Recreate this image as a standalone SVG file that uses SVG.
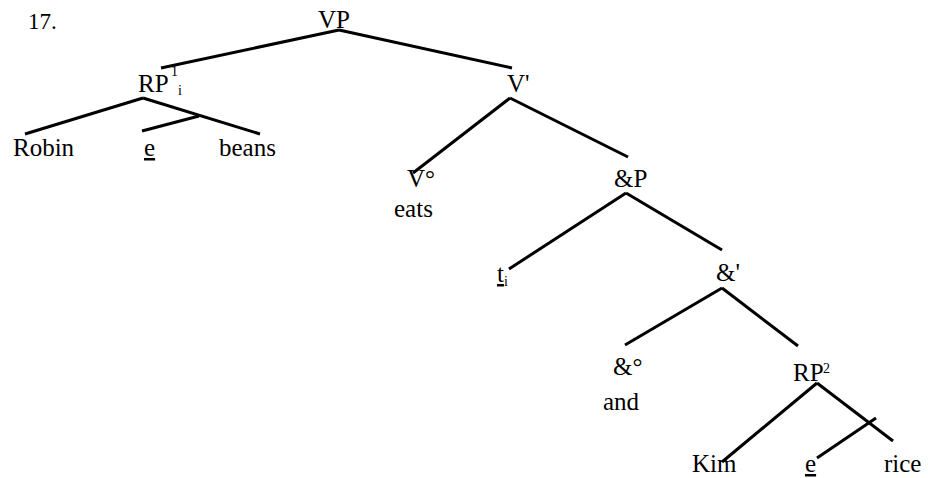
<svg xmlns="http://www.w3.org/2000/svg" width="928" height="478" viewBox="0 0 928 478">
<style>
text{font-family:"Liberation Serif",Tinos,"Times New Roman","DejaVu Serif",serif;font-size:25px;fill:#000}
.sm{font-size:14px}
.u{text-decoration:underline}
line{stroke:#000;stroke-width:3;stroke-linecap:butt}
</style>
<rect width="928" height="478" fill="#fff"/>
<text id="label-17" x="28" y="29" style="font-size:23px">17.</text>
<g id="connectors">
<line x1="339" y1="30" x2="161" y2="68"/>
<line x1="339" y1="30" x2="512" y2="68"/>
<line x1="143" y1="98" x2="25" y2="134"/>
<line x1="143" y1="98" x2="260" y2="134"/>
<line x1="199" y1="116" x2="142" y2="131"/>
<line x1="510" y1="98" x2="413" y2="173"/>
<line x1="510" y1="98" x2="628" y2="157"/>
<line x1="626" y1="193" x2="509" y2="269"/>
<line x1="626" y1="193" x2="722" y2="250"/>
<line x1="722" y1="288" x2="625" y2="345"/>
<line x1="722" y1="288" x2="798" y2="346"/>
<line x1="817" y1="383" x2="722" y2="462"/>
<line x1="817" y1="383" x2="893" y2="441"/>
<line x1="817" y1="458" x2="876" y2="418"/>
</g>
<g id="VP"><text x="318" y="28">VP</text></g>
<g id="RP1"><text x="138" y="92">RP</text><text class="sm" x="171" y="76">1</text><text class="sm" x="178" y="95">i</text></g>
<g id="Robin"><text x="13" y="156">Robin</text></g>
<g id="e1"><text class="u" x="144" y="156">e</text></g>
<g id="beans"><text x="219" y="156">beans</text></g>
<g id="Vbar"><text x="507" y="92">V'</text></g>
<g id="V0"><text x="407" y="187">V°</text><text x="394" y="217">eats</text></g>
<g id="andP"><text x="614" y="187">&amp;P</text></g>
<g id="ti"><text class="u" x="497" y="282">t</text><text class="sm" x="504" y="286">i</text></g>
<g id="andbar"><text x="716" y="281">&amp;'</text></g>
<g id="and0"><text x="613" y="375">&amp;°</text><text x="603" y="410">and</text></g>
<g id="RP2"><text x="793" y="381">RP</text><text class="sm" x="823" y="373">2</text></g>
<g id="Kim"><text x="692" y="472">Kim</text></g>
<g id="e2"><text class="u" x="805" y="472">e</text></g>
<g id="rice"><text x="884" y="472">rice</text></g>
</svg>
